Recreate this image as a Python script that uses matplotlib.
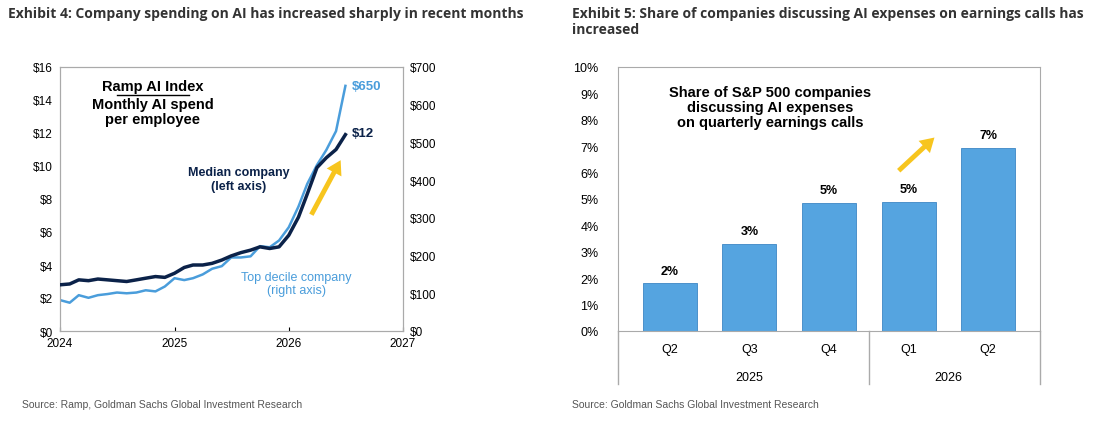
import matplotlib
matplotlib.use("Agg")
import matplotlib.pyplot as plt
import numpy as np
import pandas as pd

plt.rcParams['font.family'] = ['Liberation Sans', 'DejaVu Sans']

months = pd.date_range("2024-01-01", periods=31, freq="MS")
median = [2.8,2.85,3.1,3.05,3.15,3.1,3.05,3.0,3.1,3.2,3.3,3.25,3.5,3.85,4.0,4.0,4.1,4.3,4.55,4.75,4.9,5.1,5.0,5.1,5.8,6.9,8.3,9.9,10.5,11.0,11.9]
top_decile = [82,75,95,88,95,98,102,100,102,108,105,118,140,135,140,150,165,172,195,195,198,225,222,240,275,330,390,440,480,530,650]

quarters = ["Q2","Q3","Q4","Q1","Q2"]
years = ["2025","2026"]
share = [1.8,3.3,4.85,4.9,6.95]
share_labels = ["2%","3%","5%","5%","7%"]

DARK = "#0b2249"; LIGHT = "#4a9ddb"; BAR = "#55a4e0"; YEL = "#f7c51e"
W, H = 1100, 435
fig = plt.figure(figsize=(11, 4.35), dpi=100)

def ax_at(x0, y0, x1, y1):
    return fig.add_axes([x0/W, 1-y1/H, (x1-x0)/W, (y1-y0)/H])

fig.text(8/W, 1-14/H, "Exhibit 4: Company spending on AI has increased sharply in recent months",
         fontsize=10, fontweight="bold", color="#333333", va="center", family=["Open Sans","DejaVu Sans"])
fig.text(572/W, 1-14/H, "Exhibit 5: Share of companies discussing AI expenses on earnings calls has",
         fontsize=10, fontweight="bold", color="#333333", va="center", family=["Open Sans","DejaVu Sans"])
fig.text(572/W, 1-30/H, "increased", fontsize=10, fontweight="bold", color="#333333", va="center",
         family=["Open Sans","DejaVu Sans"])
fig.text(22/W, 1-405/H, "Source: Ramp, Goldman Sachs Global Investment Research", fontsize=7.5, color="#555555", va="center")
fig.text(572/W, 1-405/H, "Source: Goldman Sachs Global Investment Research", fontsize=7.5, color="#555555", va="center")

# Left chart
ax = ax_at(60, 68, 403, 332)
ax2 = ax.twinx()
ax.plot(months, median, color=DARK, lw=2.5, zorder=3)
ax2.plot(months, top_decile, color=LIGHT, lw=1.8)
ax.set_zorder(ax2.get_zorder()+1); ax.patch.set_visible(False)
ax.set_xlim(pd.Timestamp("2024-01-01"), pd.Timestamp("2027-01-01"))
ax.set_ylim(0, 16); ax2.set_ylim(0, 700)
ax.set_yticks(range(0, 17, 2)); ax.set_yticklabels([f"${v}" for v in range(0, 17, 2)])
ax2.set_yticks(range(0, 701, 100)); ax2.set_yticklabels([f"${v}" for v in range(0, 701, 100)])
ax.set_xticks([pd.Timestamp(f"{y}-01-01") for y in range(2024, 2028)])
ax.set_xticklabels([str(y) for y in range(2024, 2028)])
for a in (ax, ax2):
    a.tick_params(labelsize=8.5, length=0, pad=5)
    for s in a.spines.values(): s.set_color("#aaaaaa")
ax.tick_params(axis="x", direction="in", length=3, pad=4)
ax.text(0.27, 0.955, "Ramp AI Index", transform=ax.transAxes, ha="center", va="top",
        fontsize=10.5, fontweight="bold")
ax.plot([0.165, 0.375], [0.895, 0.895], transform=ax.transAxes, color="black", lw=1)
ax.text(0.27, 0.885, "Monthly AI spend\nper employee", transform=ax.transAxes, ha="center", va="top",
        fontsize=10.5, fontweight="bold", linespacing=1.05)
ax.text(0.52, 0.575, "Median company\n(left axis)", transform=ax.transAxes, ha="center", va="center",
        fontsize=9, fontweight="bold", color=DARK)
ax.text(0.69, 0.18, "Top decile company\n(right axis)", transform=ax.transAxes, ha="center", va="center",
        fontsize=9, color=LIGHT)
ax.text(months[-1] + pd.Timedelta(days=20), 12, "$12", fontsize=9.5, fontweight="bold", color=DARK, va="center")
ax2.text(months[-1] + pd.Timedelta(days=20), 650, "$650", fontsize=9.5, fontweight="bold", color=LIGHT, va="center")
ax.annotate("", xy=(pd.Timestamp("2026-06-20"), 10.5), xytext=(pd.Timestamp("2026-03-10"), 6.9),
            arrowprops=dict(arrowstyle="simple,head_width=1.2,head_length=1.0,tail_width=0.35",
                            color=YEL, lw=0))

# Right chart
bx = ax_at(618, 68, 1040, 332)
xpos = np.arange(len(share))
bx.bar(xpos, share, width=0.68, color=BAR, edgecolor="#3d86c4", lw=0.6)
for x, v, l in zip(xpos, share, share_labels):
    bx.text(x, v + 0.25, l, ha="center", va="bottom", fontsize=9, fontweight="bold")
bx.set_xlim(-0.65, 4.65); bx.set_ylim(0, 10)
bx.set_yticks(range(0, 11)); bx.set_yticklabels([f"{v}%" for v in range(11)])
bx.tick_params(axis="y", labelsize=9, length=0, pad=14)
bx.set_xticks(xpos); bx.set_xticklabels(quarters, fontsize=9)
bx.tick_params(axis="x", length=0, pad=9)
for s in bx.spines.values(): s.set_color("#aaaaaa")
bx.text(0.36, 0.93, "Share of S&P 500 companies\ndiscussing AI expenses\non quarterly earnings calls",
        transform=bx.transAxes, ha="center", va="top", fontsize=10.5, fontweight="bold", linespacing=1.05)
bx.annotate("", xy=(3.35, 7.4), xytext=(2.85, 6.0),
            arrowprops=dict(arrowstyle="simple,head_width=1.2,head_length=1.0,tail_width=0.35",
                            color=YEL, lw=0))
for xx in (-0.65, 2.5, 4.65):
    bx.plot([xx, xx], [0, -2.0], color="#aaaaaa", lw=1, clip_on=False, transform=bx.transData)
bx.text(1.0, -1.75, years[0], ha="center", va="center", fontsize=9)
bx.text(3.5, -1.75, years[1], ha="center", va="center", fontsize=9)

fig.savefig("out.png", dpi=100)
